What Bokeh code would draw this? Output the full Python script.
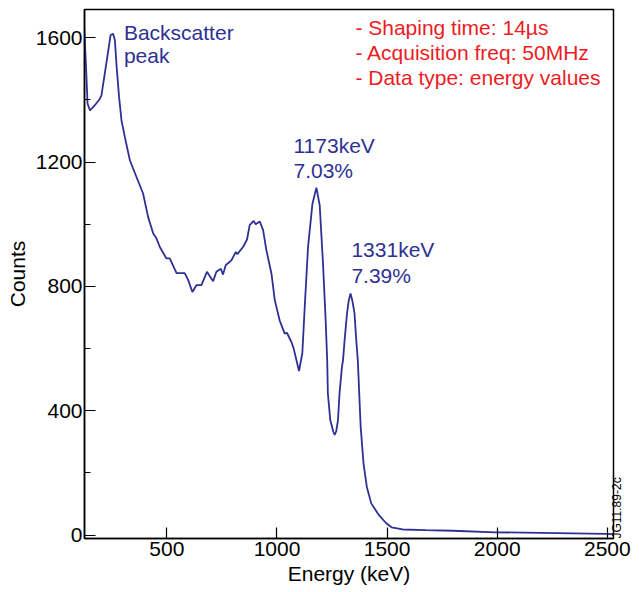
from bokeh.plotting import figure
from bokeh.models import Label, Range1d, SingleIntervalTicker, ColumnDataSource, LinearAxis, FixedTicker
from bokeh.embed import file_html
from bokeh.resources import INLINE
import math

# ---- data ----
energy_kev = [123, 133, 140, 151, 173, 196, 203, 218, 234, 244, 256, 264, 272, 283, 294,
              309, 332, 362, 392, 415, 438, 453, 468, 498, 513, 544, 581, 596, 616, 634,
              657, 682, 710, 725, 745, 755, 767, 793, 813, 820, 846, 864, 876, 894, 903,
              922, 937, 952, 975, 990, 1012, 1035, 1045, 1065, 1076, 1100, 1115, 1126,
              1141, 1161, 1179, 1194, 1209, 1221, 1228, 1231, 1242, 1255, 1262, 1269,
              1277, 1284, 1295, 1300, 1307, 1318, 1326, 1334, 1342, 1352, 1360, 1367,
              1380, 1393, 1408, 1428, 1463, 1496, 1520, 1571, 1677, 1798, 1992, 2494, 2528]
counts = [1656, 1506, 1388, 1366, 1383, 1404, 1415, 1485, 1559, 1608, 1613, 1592, 1506, 1409, 1334,
          1281, 1206, 1152, 1099, 1023, 970, 954, 927, 890, 890, 843, 843, 822, 782, 804,
          804, 847, 817, 847, 857, 838, 868, 884, 911, 904, 927, 951, 997, 1011, 1000,
          1009, 981, 916, 841, 756, 691, 648, 651, 622, 600, 528, 585, 734,
          927, 1066, 1118, 1061, 873, 691, 563, 456, 370, 334, 322, 334,
          370, 456, 541, 563, 627, 713, 755, 777, 755, 713, 627, 563,
          348, 230, 155, 102, 64, 38, 25, 18, 16, 14, 9, 4, 3]

x_ticks_interval = 500
y_ticks_interval = 400

info_lines = ["- Shaping time: 14\u00b5s", "- Acquisition freq: 50MHz", "- Data type: energy values"]
peak_labels = [("Backscatter", "peak"), ("1173keV", "7.03%"), ("1331keV", "7.39%")]
figure_id = "JG11.89-2c"

BLUE = "#2e3192"
RED = "#ed1c24"
FONT = "Liberation Sans"

p = figure(frame_width=529, frame_height=529, output_backend="svg", toolbar_location=None,
           x_range=Range1d(126, 2528), y_range=Range1d(-11, 1691),
           min_border_left=84, min_border_right=0, min_border_top=9, min_border_bottom=0)
p.background_fill_color = "white"
p.border_fill_color = "white"
p.outline_line_color = "black"
p.outline_line_width = 1.5
p.xgrid.grid_line_color = None
p.ygrid.grid_line_color = None

src = ColumnDataSource(dict(x=energy_kev, y=counts))
p.line("x", "y", source=src, line_color=BLUE, line_width=1.8)

p.xaxis.ticker = SingleIntervalTicker(interval=x_ticks_interval, num_minor_ticks=0)
p.yaxis.ticker = SingleIntervalTicker(interval=y_ticks_interval, num_minor_ticks=2)
for ax in (p.xaxis, p.yaxis):
    ax.axis_line_color = "black"
    ax.axis_line_width = 1.5
    ax.major_tick_line_color = "black"
    ax.major_tick_line_width = 1.2
    ax.major_tick_in = 11
    ax.major_tick_out = 0
    ax.minor_tick_in = 6
    ax.minor_tick_out = 0
    ax.minor_tick_line_color = "black"
    ax.major_label_text_font = FONT
    ax.major_label_text_font_size = "21px"
    ax.major_label_text_color = "black"
    ax.axis_label_text_font = FONT
    ax.axis_label_text_font_size = "21px"
    ax.axis_label_text_font_style = "normal"
    ax.axis_label_text_color = "black"
p.xaxis.major_label_standoff = 3
p.yaxis.major_label_standoff = 2
p.xaxis.axis_label = "Energy (keV)"
p.yaxis.axis_label = "Counts"
p.xaxis.axis_label_standoff = 3
p.yaxis.axis_label_standoff = 4

# figure id on the right side, reading bottom to top
rax = LinearAxis(ticker=FixedTicker(ticks=[]), axis_label=figure_id)
rax.axis_line_color = None
rax.major_tick_line_color = None
rax.minor_tick_line_color = None
rax.major_label_text_font_size = "0px"
rax.axis_label_text_font = FONT
rax.axis_label_text_font_size = "12px"
rax.axis_label_text_font_style = "normal"
rax.axis_label_text_color = "black"
rax.axis_label_standoff = 3
rax.axis_label_orientation = math.pi / 2
rax.axis_label_align = "start"
p.add_layout(rax, "right")

# info text (red)
info_y = [1633, 1553, 1472]
for t, yy in zip(info_lines, info_y):
    p.add_layout(Label(x=1356, y=yy, text=t, text_color=RED, text_font=FONT,
                       text_font_size="21px", text_baseline="alphabetic"))

# peak annotations (blue)
peak_pos = [(305, 1617, 1543), (1075, 1254, 1173), (1338, 918, 835)]
for (l1, l2), (xx, y1, y2) in zip(peak_labels, peak_pos):
    for t, yy in ((l1, y1), (l2, y2)):
        p.add_layout(Label(x=xx, y=yy, text=t, text_color=BLUE, text_font=FONT,
                           text_font_size="21px", text_baseline="alphabetic"))

open("out.html", "w").write(file_html(p, INLINE))
